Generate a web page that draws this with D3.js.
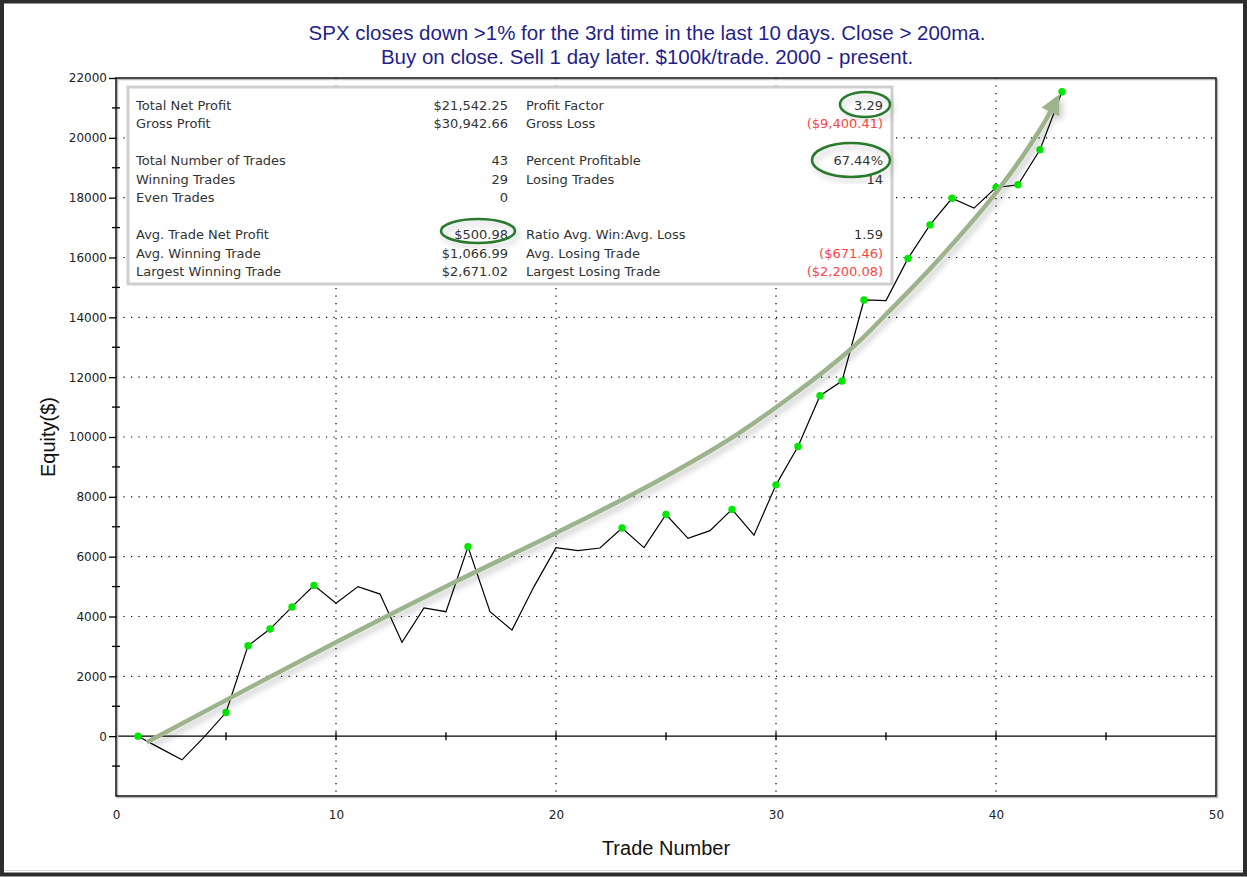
<!DOCTYPE html>
<meta charset="utf-8">
<title>SPX equity curve</title>
<style>
body { margin: 0; background: #fff; }
svg { display: block; }
.tick text { font-family: "DejaVu Sans", Verdana, sans-serif; font-size: 12px; fill: #222; }
.stats text { font-family: "DejaVu Sans", Verdana, sans-serif; font-size: 13px; fill: #333; }
</style>
<svg width="1247" height="877"></svg>
<script src="https://cdn.jsdelivr.net/npm/d3@7"></script>
<script>
  var tradeNumbers = d3.range(1, 44)
  var equity = [0, -400, -790, -30, 790, 3020, 3580, 4320, 5040, 4440,
    5000, 4750, 3140, 4290, 4160, 6330, 4160, 3545, 5000, 6300,
    6200, 6290, 6960, 6300, 7410, 6610, 6870, 7580, 6720, 8400,
    9680, 11380, 11870, 14580, 14560, 15970, 17090, 17980, 17650, 18340,
    18430, 19600, 21542]

  var titleLines = ["SPX closes down >1% for the 3rd time in the last 10 days. Close > 200ma.",
    "Buy on close. Sell 1 day later. $100k/trade. 2000 - present."]
  var xTicks = [0, 10, 20, 30, 40, 50]
  var yTicks = d3.range(-2000, 22001, 2000)
  var yMinorTicks = d3.range(-1000, 22000, 2000)

  // stats table, slot = row position inside the box (blank slots are gaps)
  var statSlots = [0, 1, 3, 4, 5, 7, 8, 9]
  var leftLabels = ["Total Net Profit", "Gross Profit", "Total Number of Trades", "Winning Trades",
    "Even Trades", "Avg. Trade Net Profit", "Avg. Winning Trade", "Largest Winning Trade"]
  var leftValues = ["$21,542.25", "$30,942.66", "43", "29", "0", "$500.98", "$1,066.99", "$2,671.02"]
  var rightLabels = ["Profit Factor", "Gross Loss", "Percent Profitable", "Losing Trades", "",
    "Ratio Avg. Win:Avg. Loss", "Avg. Losing Trade", "Largest Losing Trade"]
  var rightValues = ["3.29", "($9,400.41)", "67.44%", "14", "", "1.59", "($671.46)", "($2,200.08)"]

  // hand drawn annotation arrow, in trade / equity units
  var arrowPath = [[1.4, -200], [10, 3140], [15.2, 5080], [20, 6790], [24.7, 8560], [28.4, 10170],
    [33.2, 12810], [35.2, 14250], [37.5, 16020], [40.1, 18260], [42, 20270], [42.8, 21340]]

  var svg = d3.select("svg"),
    width = +svg.attr("width"),
    height = +svg.attr("height")

  // plot area edges (not "top": that name belongs to window)
  var plotL = 116, plotR = 1216, plotT = 78, plotB = 796

  var x = d3.scaleLinear().domain([0, 50]).range([plotL, plotR])
  var y = d3.scaleLinear().domain([-2000, 22000]).range([plotB, plotT])

  var defs = svg.append("defs")
  var shadow = defs.append("filter").attr("id", "shadow")
    .attr("x", "-20%").attr("y", "-20%").attr("width", "140%").attr("height", "140%")
  shadow.append("feDropShadow").attr("dx", 3).attr("dy", 4).attr("stdDeviation", 3)
    .attr("flood-color", "#000").attr("flood-opacity", 0.22)

  defs.append("marker").attr("id", "head")
    .attr("viewBox", "0 0 10 10").attr("refX", 8).attr("refY", 5)
    .attr("markerWidth", 5.2).attr("markerHeight", 4.4)
    .attr("markerUnits", "strokeWidth").attr("orient", "auto")
    .append("path").attr("d", "M0,0L10,5L0,10z").attr("fill", "#9db38c")

  // outer frame
  svg.append("rect").attr("x", 2).attr("y", 1.5).attr("width", width - 4).attr("height", height - 4)
    .attr("fill", "#fff").attr("stroke", "#2d2d2d").attr("stroke-width", 4)
  svg.append("line").attr("x1", 4).attr("x2", width - 4).attr("y1", 870.5).attr("y2", 870.5)
    .attr("stroke", "#d8d8d8")

  // title
  svg.append("g").selectAll("text").data(titleLines).enter().append("text")
    .attr("x", 647).attr("y", function(d, i) { return 40 + i * 24 })
    .attr("text-anchor", "middle")
    .attr("font-family", "Liberation Sans, Arial, sans-serif").attr("font-size", "20.5px")
    .attr("fill", "#1f1f8c")
    .text(function(d) { return d })

  // dotted grid
  var grid = svg.append("g").attr("stroke", "#000").attr("stroke-width", 1.2)
    .attr("stroke-dasharray", "1.2,6.3")
  grid.selectAll(".h").data(yTicks.filter(function(v) { return v > 0 && v < 22000 })).enter()
    .append("line").attr("x1", plotL).attr("x2", plotR)
    .attr("y1", function(d) { return y(d) }).attr("y2", function(d) { return y(d) })
  grid.selectAll(".v").data(xTicks.filter(function(v) { return v > 0 && v < 50 })).enter()
    .append("line").attr("y1", plotT).attr("y2", plotB)
    .attr("x1", function(d) { return x(d) }).attr("x2", function(d) { return x(d) })

  // zero line with its ticks
  svg.append("line").attr("x1", plotL).attr("x2", plotR).attr("y1", y(0)).attr("y2", y(0))
    .attr("stroke", "#000").attr("stroke-width", 1.3)
  svg.append("g").selectAll("line").data(d3.range(5, 50, 5)).enter().append("line")
    .attr("x1", function(d) { return x(d) }).attr("x2", function(d) { return x(d) })
    .attr("y1", y(0) - 4).attr("y2", y(0) + 4).attr("stroke", "#000").attr("stroke-width", 1.3)

  // plot frame
  svg.append("rect").attr("x", plotL + 1.5).attr("y", plotT + 1.5).attr("width", plotR - plotL).attr("height", plotB - plotT)
    .attr("fill", "none").attr("stroke", "#bbb").attr("stroke-width", 1.5)
  svg.append("rect").attr("x", plotL).attr("y", plotT).attr("width", plotR - plotL).attr("height", plotB - plotT)
    .attr("fill", "none").attr("stroke", "#111").attr("stroke-width", 1.5)

  // axes
  svg.append("g").attr("transform", "translate(" + plotL + ",0)")
    .call(d3.axisLeft(y).tickValues(yTicks.filter(function(v) { return v >= 0 }))
      .tickFormat(d3.format("d")).tickSize(7).tickPadding(2))
    .call(function(g) { g.select(".domain").remove() })
    .selectAll(".tick line").attr("stroke-width", 1.3)
  svg.append("g").selectAll("line").data(yMinorTicks).enter().append("line")
    .attr("x1", plotL - 4).attr("x2", plotL + 4)
    .attr("y1", function(d) { return y(d) }).attr("y2", function(d) { return y(d) })
    .attr("stroke", "#000").attr("stroke-width", 1.3)

  svg.append("g").attr("transform", "translate(0," + plotB + ")")
    .call(d3.axisBottom(x).tickValues(xTicks).tickSize(0).tickPadding(14))
    .call(function(g) { g.select(".domain").remove() })

  svg.append("text").attr("x", 666).attr("y", 855).attr("text-anchor", "middle")
    .attr("font-family", "Liberation Sans, Arial, sans-serif").attr("font-size", "20px").attr("fill", "#111")
    .text("Trade Number")
  svg.append("text").attr("transform", "translate(55,437)rotate(-90)").attr("text-anchor", "middle")
    .attr("font-family", "Liberation Sans, Arial, sans-serif").attr("font-size", "20px").attr("fill", "#111")
    .text("Equity($)")

  // stats box
  var stats = svg.append("g").attr("class", "stats")
  stats.append("rect").attr("x", 128).attr("y", 87).attr("width", 764).attr("height", 197)
    .attr("fill", "#fff").attr("stroke", "#cfcfcf").attr("stroke-width", 3)
  var rowY = function(i) { return 105 + statSlots[i] * 18.5 }
  function column(list, xPos, anchor, colorFn) {
    stats.append("g").selectAll("text").data(list).enter().append("text")
      .attr("x", xPos).attr("y", function(d, i) { return rowY(i) }).attr("dy", "0.36em")
      .attr("text-anchor", anchor)
      .style("fill", colorFn)
      .text(function(d) { return d })
  }
  var valueColor = function(d) { return d.charAt(0) == "(" ? "#ff4444" : "#333" }
  column(leftLabels, 136, "start", "#333")
  column(leftValues, 508, "end", valueColor)
  column(rightLabels, 526, "start", "#333")
  column(rightValues, 883, "end", valueColor)

  // equity line
  var points = tradeNumbers.map(function(t, i) { return { trade: t, value: equity[i] } })
  svg.append("path").datum(points)
    .attr("fill", "none").attr("stroke", "#000").attr("stroke-width", 1.2)
    .attr("d", d3.line().x(function(d) { return x(d.trade) }).y(function(d) { return y(d.value) }))

  // green dots on new equity highs
  var peak = -Infinity
  var highs = points.filter(function(d) {
    if (d.value >= peak) { peak = d.value; return true }
    return false
  })
  svg.append("g").selectAll("circle").data(highs).enter().append("circle")
    .attr("cx", function(d) { return x(d.trade) }).attr("cy", function(d) { return y(d.value) })
    .attr("r", 3.7).attr("fill", "#00e800")

  // annotation arrow
  svg.append("path").datum(arrowPath)
    .attr("fill", "none").attr("stroke", "#9db38c").attr("stroke-width", 4.5)
    .attr("stroke-linecap", "butt").attr("filter", "url(#shadow)")
    .attr("marker-end", "url(#head)")
    .attr("d", d3.line().curve(d3.curveCatmullRom).x(function(d) { return x(d[0]) }).y(function(d) { return y(d[1]) }))

  // circled figures
  var rings = [[478, 231, 37, 12], [865, 104.5, 25, 12.5], [851, 160, 39, 17]]
  svg.append("g").selectAll("ellipse").data(rings).enter().append("ellipse")
    .attr("cx", function(d) { return d[0] }).attr("cy", function(d) { return d[1] })
    .attr("rx", function(d) { return d[2] }).attr("ry", function(d) { return d[3] })
    .attr("fill", "none").attr("stroke", "#2a7a2e").attr("stroke-width", 2.6)
    .attr("filter", "url(#shadow)")
</script>
